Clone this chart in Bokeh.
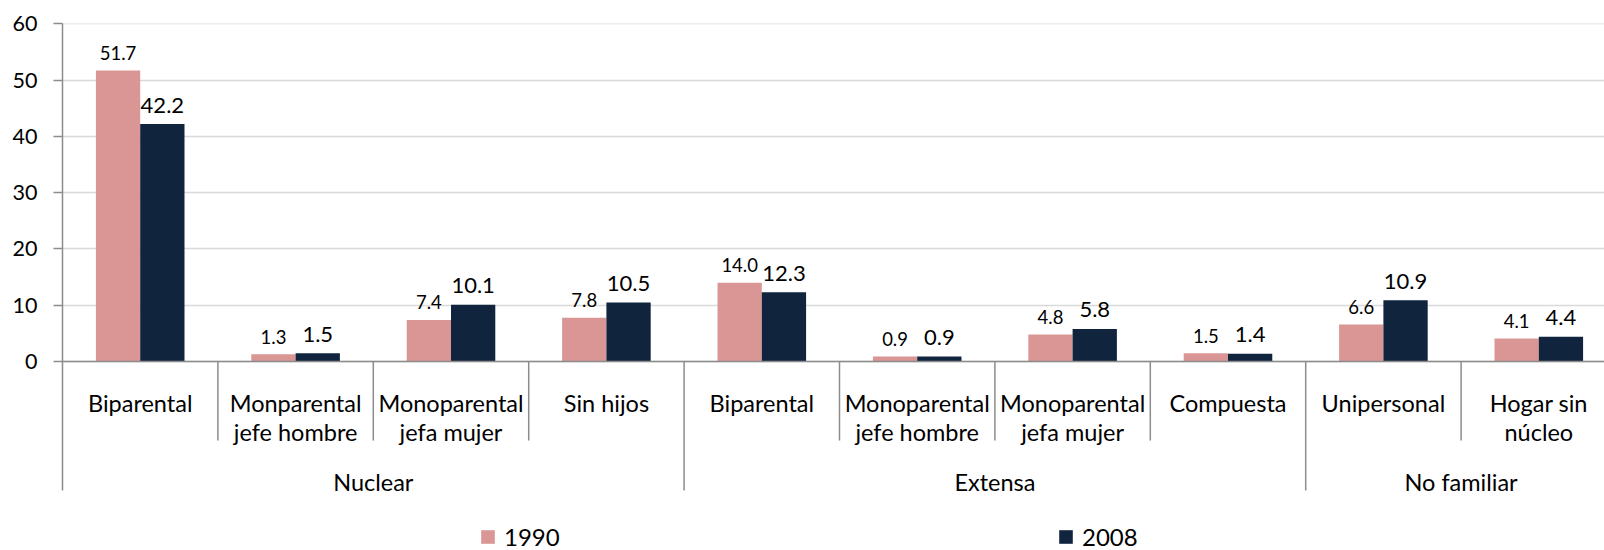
from bokeh.plotting import figure
from bokeh.models import ColumnDataSource, Range1d, FixedTicker, Legend, LegendItem
from bokeh.transform import dodge
from bokeh.core.properties import value
from bokeh.embed import file_html
from bokeh.resources import INLINE

# ---------------- data ----------------
categories = ["Biparental", "Monparental\njefe hombre", "Monoparental\njefa mujer", "Sin hijos",
              "Biparental", "Monoparental\njefe hombre", "Monoparental\njefa mujer", "Compuesta",
              "Unipersonal", "Hogar sin\nnúcleo"]
groups = ["Nuclear"] * 4 + ["Extensa"] * 4 + ["No familiar"] * 2
series = ["1990", "2008"]
v1990 = [51.7, 1.3, 7.4, 7.8, 14.0, 0.9, 4.8, 1.5, 6.6, 4.1]
v2008 = [42.2, 1.5, 10.1, 10.5, 12.3, 0.9, 5.8, 1.4, 10.9, 4.4]
y_ticks = [0, 10, 20, 30, 40, 50, 60]

# ---------------- style ----------------
C1990 = "#D99694"
C2008 = "#10243E"
AXIS = "#8C8C8C"
GRID = "#D9D9D9"
FONT = "Lato"

W, H = 1604, 550
B_LEFT, B_TOP, B_BOTTOM = 62, 23, 0
frame_h = H - B_TOP - B_BOTTOM
px_per_unit = (361 - 23) / 60.0
y_start = -(frame_h - 60 * px_per_unit) / px_per_unit
cat_px = 155.4
x_end = (W - B_LEFT) / cat_px
group_end = -(490 - 361) / px_per_unit
inner_end = -(440 - 361) / px_per_unit

n = len(categories)
xc = [i + 0.5 for i in range(n)]
line1 = [c.split("\n")[0] for c in categories]
line2 = [c.split("\n")[1] if "\n" in c else "" for c in categories]

src = ColumnDataSource(dict(
    x=xc, zero=[0] * n, v1990=v1990, v2008=v2008,
    l1990=["%.1f" % v for v in v1990], l2008=["%.1f" % v for v in v2008],
    line1=line1, line2=line2,
))

p = figure(width=W, height=H, output_backend="svg", toolbar_location=None,
           x_range=Range1d(0, x_end), y_range=Range1d(y_start, 60.05),
           x_axis_location=None, min_border_left=B_LEFT, min_border_right=0,
           min_border_top=B_TOP, min_border_bottom=B_BOTTOM)
p.outline_line_color = None
p.xgrid.grid_line_color = None
p.yaxis.ticker = FixedTicker(ticks=y_ticks)
p.yaxis.bounds = (group_end, 60)
p.ygrid.grid_line_color = GRID
p.ygrid.grid_line_width = 1.5
p.yaxis.axis_line_color = AXIS
p.yaxis.axis_line_width = 1.5
p.yaxis.major_tick_line_color = AXIS
p.yaxis.major_tick_line_width = 1.5
p.yaxis.major_tick_out = 9
p.yaxis.major_tick_in = 0
p.yaxis.minor_tick_line_color = None
p.yaxis.major_label_standoff = 16
p.yaxis.major_label_text_font = FONT
p.yaxis.major_label_text_font_size = "21.5px"
p.yaxis.major_label_text_color = "#000000"

bw = 0.285
r1 = p.vbar(x=dodge("x", -bw / 2, range=p.x_range), top="v1990", width=bw, source=src,
            fill_color=C1990, line_color=None)
r2 = p.vbar(x=dodge("x", bw / 2, range=p.x_range), top="v2008", width=bw, source=src,
            fill_color=C2008, line_color=None)

# category axis line at 0 (across the whole frame)
p.segment(x0=[0], y0=[0], x1=[x_end], y1=[0], line_color=AXIS, line_width=1.5)

# data labels
p.text(x=dodge("x", -bw / 2, range=p.x_range), y="v1990", text="l1990", source=src,
       text_align="center", text_baseline="alphabetic", y_offset=-17.5,
       text_font=value(FONT), text_font_size="18.5px", text_color="#000000")
p.text(x=dodge("x", bw / 2, range=p.x_range), y="v2008", text="l2008", source=src,
       text_align="center", text_baseline="alphabetic", y_offset=-19,
       text_font=value(FONT), text_font_size="22px", text_color="#000000")

# category labels
p.text(x="x", y="zero", text="line1", source=src, text_align="center",
       text_baseline="alphabetic", y_offset=41.5, text_font=value(FONT),
       text_font_size="23.5px", text_color="#000000")
p.text(x="x", y="zero", text="line2", source=src, text_align="center",
       text_baseline="alphabetic", y_offset=70.5, text_font=value(FONT),
       text_font_size="23.5px", text_color="#000000")

# separators
sx, sy1 = [], []
for k in range(1, n + 1):
    sx.append(k)
    sy1.append(inner_end if (k < n and groups[k] == groups[k - 1]) else group_end)
p.segment(x0=sx, y0=[0] * len(sx), x1=sx, y1=sy1, line_color=AXIS, line_width=1.5)

# group labels
gnames, gcent = [], []
start = 0
for k in range(1, n + 1):
    if k == n or groups[k] != groups[start]:
        gnames.append(groups[start]); gcent.append((start + k) / 2.0)
        start = k
p.text(x=gcent, y=[0] * len(gcent), text=gnames, text_align="center",
       text_baseline="alphabetic", y_offset=120.5, text_font=value(FONT),
       text_font_size="23.5px", text_color="#000000")

# legends
for r, lab, lx in ((r1, series[0], 417), (r2, series[1], 995)):
    lg = Legend(items=[LegendItem(label=lab, renderers=[r])], location=(lx, -1),
                orientation="horizontal", padding=0, margin=0, spacing=0,
                label_standoff=8, glyph_width=17, glyph_height=17,
                border_line_color=None, background_fill_alpha=0,
                label_text_font=FONT, label_text_font_size="24px",
                label_text_color="#000000")
    p.add_layout(lg, "center")

open("out.html", "w").write(file_html(p, INLINE))
